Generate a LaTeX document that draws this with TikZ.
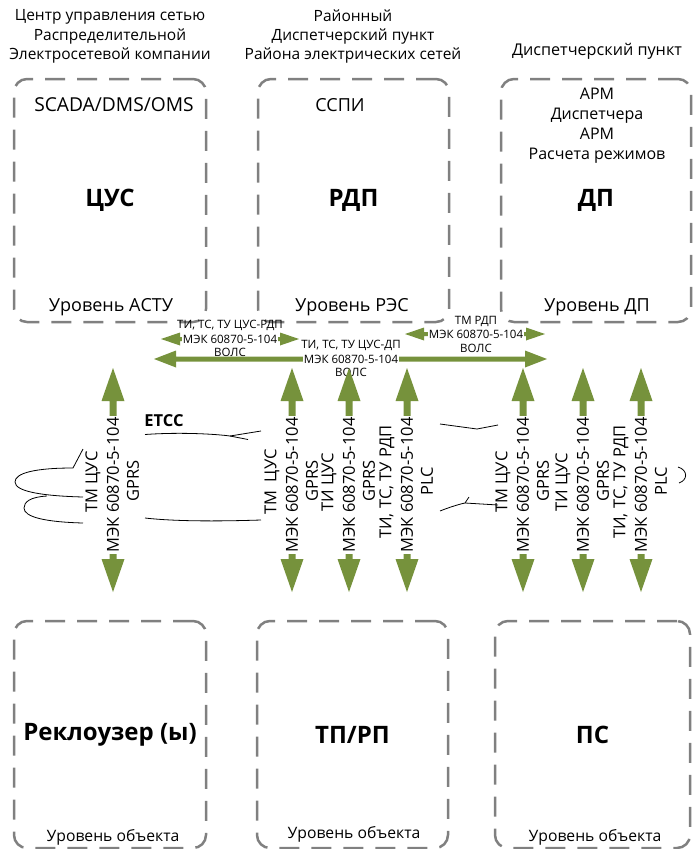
\documentclass[tikz,border=0pt]{standalone}
\usepackage{fontspec}
\setmainfont{Open Sans}
\usetikzlibrary{calc}
\definecolor{agreen}{RGB}{118,146,60}
\definecolor{boxgray}{RGB}{128,128,128}
\newcommand{\vdarr}[2]{\fill[agreen] (#1) -- ($(#1)+(11.5,33)$) -- ($(#1)+(3.5,33)$) -- ($(#2)+(3.5,-33)$) -- ($(#2)+(11.5,-33)$) -- (#2) -- ($(#2)+(-11.5,-33)$) -- ($(#2)+(-3.5,-33)$) -- ($(#1)+(-3.5,33)$) -- ($(#1)+(-11.5,33)$) -- cycle;}
\newcommand{\hdarr}[5]{\fill[agreen] (#1) -- ($(#1)+(#3,-#4)$) -- ($(#1)+(#3,-#5)$) -- ($(#2)+(-#3,-#5)$) -- ($(#2)+(-#3,-#4)$) -- (#2) -- ($(#2)+(-#3,#4)$) -- ($(#2)+(-#3,#5)$) -- ($(#1)+(#3,#5)$) -- ($(#1)+(#3,#4)$) -- cycle;}
\tikzset{
  dbox/.style={draw=boxgray, line width=2.5pt, dash pattern=on 20pt off 12pt, rounded corners=13pt, inner sep=0pt},
  big/.style={font=\bfseries\fontsize{24}{28}\selectfont},
  hdr/.style={font=\fontsize{15.5}{19.3}\selectfont, align=center, inner sep=0pt},
  inr/.style={font=\fontsize{16}{20}\selectfont, align=center, inner sep=0pt},
  lvl/.style={font=\fontsize{18}{20}\selectfont, inner sep=0pt},
  olvl/.style={font=\fontsize{15.7}{18}\selectfont, inner sep=0pt},
  vlab/.style={font=\fontsize{16.5}{18}\selectfont, rotate=90, inner sep=0pt},
  vmid/.style={vlab, fill=white, inner xsep=1pt, inner ysep=1pt},
  hlab/.style={font=\fontsize{11.5}{13}\selectfont, inner sep=0pt},
  hmid/.style={hlab, fill=white, inner xsep=1pt, inner ysep=1.5pt},
  thinl/.style={draw=black, line width=0.8pt}
}
\begin{document}
\begin{tikzpicture}[x=1pt,y=-1pt]
\useasboundingbox (0,0) rectangle (693,849);
% top boxes
\node[dbox, big, minimum width=192pt, minimum height=243pt] (cus) at (110,200.5) {ЦУС};
\node[dbox, big, minimum width=191pt, minimum height=243pt] (rdp) at (353.5,200.5) {РДП};
\node[dbox, big, minimum width=190pt, minimum height=243pt] (dp) at (596,200.5) {ДП};
% bottom boxes
\node[dbox, big, minimum width=192pt, minimum height=227pt] (rek) at (110,734.5) {Реклоузер (ы)};
\node[dbox, big, minimum width=191pt, minimum height=227pt] (tp) at (352.5,734.5) {ТП/РП};
\node[dbox, big, minimum width=195pt, minimum height=227pt] (ps) at (592.5,734.5) {ПС};
% headers
\node[hdr] (h1) at (110,36.5) {Центр управления сетью\\Распределительной\\Электросетевой компании};
\node[hdr] (h2) at (353,36.5) {Районный\\Диспетчерский пункт\\Района электрических сетей};
\node[hdr, font=\fontsize{16.2}{19.3}\selectfont] (h3) at (597,51) {Диспетчерский пункт};
% inner texts
\node[lvl, font=\fontsize{19.2}{20}\selectfont] (scada) at (114,105) {SCADA/DMS/OMS};
\node[lvl] (sspi) at (340,105) {ССПИ};
\node[inr] (arm) at (597,126) {АРМ\\Диспетчера\\АРМ\\Расчета режимов};
\node[lvl] (l1) at (111,307) {Уровень АСТУ};
\node[lvl] (l2) at (352,307) {Уровень РЭС};
\node[lvl] (l3) at (597,307) {Уровень ДП};
\node[olvl] (o1) at (113,837) {Уровень объекта};
\node[olvl] (o2) at (354,834) {Уровень объекта};
\node[olvl] (o3) at (595,837) {Уровень объекта};
% horizontal arrows
\coordinate (a1l) at (161,339); \coordinate (a1r) at (299,339);
\coordinate (a2l) at (154,359); \coordinate (a2r) at (547,359);
\coordinate (a3l) at (405,334); \coordinate (a3r) at (545,334);
\hdarr{a1l}{a1r}{19}{6.5}{2}
\hdarr{a2l}{a2r}{22}{8.5}{2.5}
\hdarr{a3l}{a3r}{19}{6.5}{2}
\node[hlab] (t1a) at (230,325.5) {ТИ, ТС, ТУ ЦУС-РДП};
\node[hmid] (t1b) at (230,339) {МЭК 60870-5-104};
\node[hlab] (t1c) at (230,352.5) {ВОЛС};
\node[hlab] (t2a) at (351,345) {ТИ, ТС, ТУ ЦУС-ДП};
\node[hmid] (t2b) at (351,359) {МЭК 60870-5-104};
\node[hlab] (t2c) at (351,372.5) {ВОЛС};
\node[hlab] (t3a) at (476,321) {ТМ РДП};
\node[hmid] (t3b) at (476,334) {МЭК 60870-5-104};
\node[hlab] (t3c) at (476,348) {ВОЛС};
% vertical arrows
\foreach \n/\x in {1/113,2/292,3/349,4/407,5/523,6/583,7/641}{
  \coordinate (v\n t) at (\x,368); \coordinate (v\n b) at (\x,592);
  \vdarr{v\n t}{v\n b}
}
\foreach \n/\x/\la/\lc in {1/113/ТМ ЦУС/GPRS, 2/292/ТМ~ ЦУС/GPRS, 3/349/ТИ ЦУС/GPRS, 4/407/{ТИ, ТС, ТУ РДП}/PLC, 5/523/ТМ ЦУС/GPRS, 6/583/ТИ ЦУС/GPRS, 7/641/{ТИ, ТС, ТУ РДП}/PLC}{
  \node[vlab] (va\n) at (\x-20,482) {\la};
  \node[vmid] (vb\n) at (\x,485) {МЭК 60870-5-104};
  \node[vlab] (vc\n) at (\x+20,481) {\lc};
}
% ETCC and thin lines
\node[font=\bfseries\fontsize{16.5}{17}\selectfont, inner sep=0pt] (etcc) at (164,421) {ETCC};
\draw[thinl] (83,449) -- (73,468) .. controls (35,468) and (15,473) .. (15,482) .. controls (15,492) and (45,496) .. (83,497);
\draw[thinl] (47,496) .. controls (30,497) and (24,502) .. (24,508) .. controls (24,517) and (45,522) .. (83,523);
\draw[thinl] (145,434.5) .. controls (180,432) and (215,434) .. (230,436) -- (261,431);
\draw[thinl] (230,436) -- (248,439.5);
\draw[thinl] (145,518) .. controls (180,522) and (230,521) .. (261,520);
\draw[thinl] (440,424) -- (477,429) -- (498,425);
\draw[thinl] (440,511) .. controls (450,507) and (460,504) .. (465,503) -- (469,497);
\draw[thinl] (465,503) -- (498,505);
\draw[thinl] (678,467) .. controls (688,470) and (688,480) .. (679,483);
\end{tikzpicture}
\end{document}
